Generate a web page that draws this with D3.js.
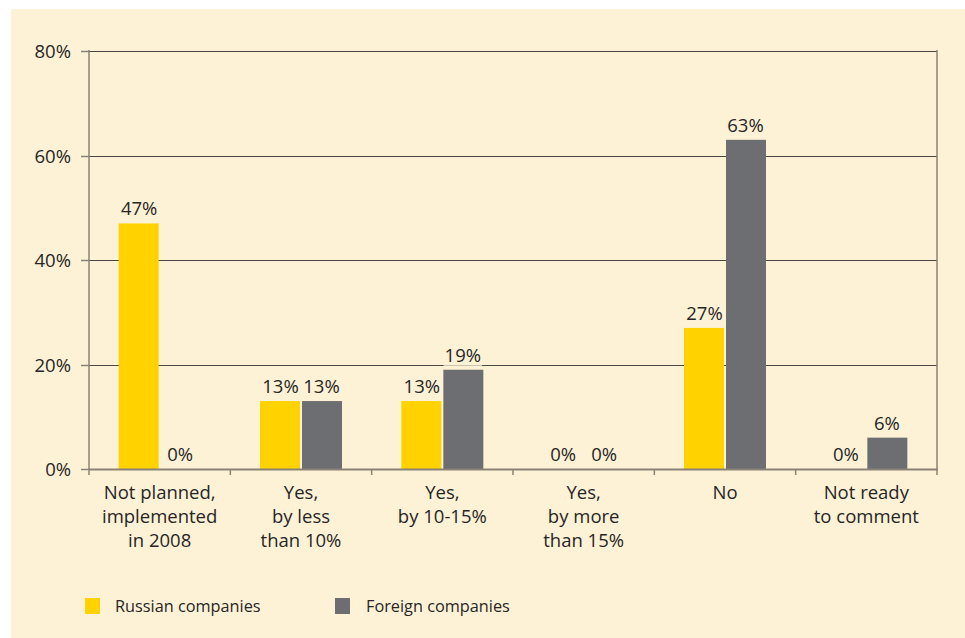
<!DOCTYPE html>
<html>
<head>
<meta charset="utf-8">
<script src="https://cdn.jsdelivr.net/npm/d3@7"></script>
<style>
  html, body { margin: 0; padding: 0; background: #ffffff; }
  svg { display: block; }
  text { font-family: "Open Sans", "Noto Sans", sans-serif; fill: #262626; }
</style>
</head>
<body>
<svg id="chart" width="965" height="638"></svg>
<script>
// Category labels (one entry per line of text)
const categories = [
  ["Not planned,", "implemented", "in 2008"],
  ["Yes,", "by less", "than 10%"],
  ["Yes,", "by 10-15%"],
  ["Yes,", "by more", "than 15%"],
  ["No"],
  ["Not ready", "to comment"]
];
const seriesNames = ["Russian companies", "Foreign companies"];
const russianValues = [47, 13, 13, 0, 27, 0];
const foreignValues = [0, 13, 19, 0, 63, 6];
const yTicks = [0, 20, 40, 60, 80];
const colors = ["#ffd200", "#6d6e71"];

(function draw() {
  const W = 965, H = 638;
  const bg = "#fef2d6";
  const svg = d3.select("#chart");

  // cream panel
  svg.append("rect").attr("x", 11).attr("y", 9).attr("width", W - 11).attr("height", H - 9).attr("fill", bg);

  const plotLeft = 89, plotRight = 937, plotTop = 51, plotBottom = 469;
  const y = d3.scaleLinear().domain([0, 80]).range([plotBottom, plotTop]);
  const x = d3.scaleBand().domain(d3.range(categories.length)).range([plotLeft, plotRight]).padding(0);
  const barW = 41;
  const inner = d3.scaleBand().domain(seriesNames)
    .range([x.bandwidth() / 2 - barW, x.bandwidth() / 2 + barW]).padding(0);

  const rows = categories.map((c, i) => ({ i, values: [russianValues[i], foreignValues[i]] }));

  // gridlines
  svg.append("g").selectAll("line").data(yTicks.filter(t => t > 0)).join("line")
    .attr("x1", plotLeft).attr("x2", plotRight)
    .attr("y1", d => Math.round(y(d)) + 0.5).attr("y2", d => Math.round(y(d)) + 0.5)
    .attr("stroke", "#4a4744").attr("stroke-width", 1.2);

  // y tick marks and labels
  const axisColor = "#8a8276";
  const yAxis = svg.append("g");
  yAxis.selectAll("line").data(yTicks).join("line")
    .attr("x1", 81).attr("x2", plotLeft)
    .attr("y1", d => Math.round(y(d)) + 0.5).attr("y2", d => Math.round(y(d)) + 0.5)
    .attr("stroke", axisColor).attr("stroke-width", 1.5);
  yAxis.selectAll("text").data(yTicks).join("text")
    .attr("x", 71).attr("y", d => y(d) + 7)
    .attr("text-anchor", "end").attr("font-size", 18.5)
    .text(d => d + "%");

  // bars
  const groups = svg.append("g").selectAll("g").data(rows).join("g")
    .attr("transform", d => `translate(${x(d.i)},0)`);

  groups.selectAll("rect").data(d => d.values.map((v, k) => ({ v, k }))).join("rect")
    .attr("x", d => inner(seriesNames[d.k]) + (d.k === 1 ? 1 : 0))
    .attr("width", inner.bandwidth() - 1)
    .attr("y", d => y(d.v))
    .attr("height", d => y(0) - y(d.v))
    .attr("fill", d => colors[d.k]);

  // axis frame
  svg.append("line").attr("x1", plotLeft).attr("x2", plotRight + 1)
    .attr("y1", plotBottom + 0.5).attr("y2", plotBottom + 0.5)
    .attr("stroke", axisColor).attr("stroke-width", 2);
  svg.append("line").attr("x1", plotLeft).attr("x2", plotLeft).attr("y1", plotTop - 1).attr("y2", plotBottom + 6)
    .attr("stroke", axisColor).attr("stroke-width", 1.5);
  svg.append("line").attr("x1", plotRight).attr("x2", plotRight).attr("y1", plotTop - 1).attr("y2", plotBottom + 6)
    .attr("stroke", axisColor).attr("stroke-width", 1.5);
  svg.append("g").selectAll("line").data(d3.range(1, categories.length)).join("line")
    .attr("x1", d => x(d)).attr("x2", d => x(d))
    .attr("y1", plotBottom).attr("y2", plotBottom + 6)
    .attr("stroke", axisColor).attr("stroke-width", 1.5);

  // value labels with a knockout background
  const labels = groups.selectAll("g.lbl").data(d => d.values.map((v, k) => ({ v, k }))).join("g")
    .attr("class", "lbl");
  labels.append("text")
    .attr("x", d => inner(seriesNames[d.k]) + inner.bandwidth() / 2)
    .attr("y", d => y(d.v) - 8)
    .attr("text-anchor", "middle").attr("font-size", 18.5).attr("font-weight", 500)
    .text(d => d.v + "%");
  labels.each(function () {
    const t = d3.select(this).select("text");
    const b = t.node().getBBox();
    d3.select(this).insert("rect", "text")
      .attr("x", b.x - 1).attr("y", b.y + 3).attr("width", b.width + 2).attr("height", b.height - 4)
      .attr("fill", bg);
  });

  // category labels
  svg.append("g").selectAll("text").data(rows).join("text")
    .attr("x", d => x(d.i) + x.bandwidth() / 2)
    .attr("text-anchor", "middle").attr("font-size", 18.5)
    .selectAll("tspan").data(d => categories[d.i].map((line, j) => ({ line, j }))).join("tspan")
    .attr("x", function () { return this.parentNode.getAttribute("x"); })
    .attr("y", d => 499 + d.j * 24)
    .text(d => d.line);

  // legend
  const legendX = [85, 335];
  const legend = svg.append("g").selectAll("g").data(seriesNames).join("g")
    .attr("transform", (d, k) => `translate(${legendX[k]},598)`);
  legend.append("rect").attr("width", 15).attr("height", 16).attr("fill", (d, k) => colors[k]);
  legend.append("text").attr("x", (d, k) => k === 0 ? 30 : 31).attr("y", 13.5)
    .attr("font-size", 16.3).text(d => d);
})();
</script>
</body>
</html>
